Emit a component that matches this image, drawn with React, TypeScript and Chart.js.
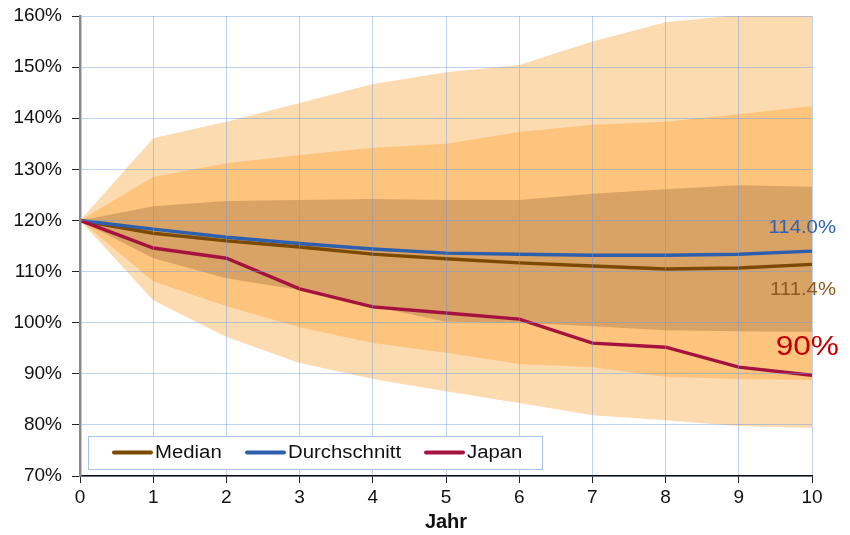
import React, { useEffect, useRef } from "react";
import { Chart, registerables } from "chart.js";

Chart.register(...registerables);

// Years after the reference point
const years = [0, 1, 2, 3, 4, 5, 6, 7, 8, 9, 10];

// Percentile bands (in % of the starting level)
const outerUpper = [120, 136.1, 139.3, 143.0, 146.7, 149.0, 150.4, 155.0, 158.8, 160.2, 160.8];
const midUpper = [120, 128.5, 131.2, 132.8, 134.2, 135.0, 137.3, 138.7, 139.3, 140.8, 142.4];
const innerUpper = [120, 122.8, 123.8, 124.0, 124.2, 124.0, 124.0, 125.2, 126.1, 126.9, 126.6];
const innerLower = [120, 112.6, 108.7, 106.4, 103.2, 100.2, 100.0, 99.3, 98.5, 98.3, 98.2];
const midLower = [120, 108.1, 103.2, 99.1, 96.0, 94.1, 91.9, 91.3, 89.4, 89.0, 88.8];
const outerLower = [120, 104.4, 97.2, 92.1, 89.0, 86.6, 84.3, 81.9, 80.9, 79.8, 79.4];

// Paths
const median = [120, 117.5, 116.0, 114.8, 113.4, 112.5, 111.7, 111.1, 110.5, 110.7, 111.4];
const average = [120, 118.3, 116.7, 115.5, 114.4, 113.6, 113.4, 113.2, 113.2, 113.4, 114.0];
const japan = [120, 114.6, 112.6, 106.6, 103.1, 101.9, 100.7, 96.0, 95.2, 91.3, 89.7];

const yTicks = [70, 80, 90, 100, 110, 120, 130, 140, 150, 160];
const seriesNames = ["Median", "Durchschnitt", "Japan"];

const COL_MEDIAN = "#7B4A00";
const COL_AVG = "#2E5FAC";
const COL_JAPAN = "#A6123F";
const COL_OUTER = "#FDDBB0";
const COL_MID = "#FDC47E";
const COL_INNER = "#D8A365";

const FONT = "'Liberation Sans', Arial, sans-serif";
const STRETCH = 1.13;

const pts = (arr: number[]) => years.map((x, i) => ({ x, y: arr[i] }));

const lineDs = (label: string, arr: number[], color: string, order: number) => ({
  label,
  data: pts(arr),
  borderColor: color,
  backgroundColor: color,
  borderWidth: 3.4,
  pointRadius: 0,
  fill: false,
  tension: 0,
  order,
});

const bandDs = (label: string, arr: number[], color: string, order: number, fill: any) => ({
  label,
  data: pts(arr),
  borderWidth: 0,
  borderColor: "rgba(0,0,0,0)",
  backgroundColor: color,
  pointRadius: 0,
  fill,
  tension: 0,
  order,
});

// Text drawn slightly widened, anchored at (x, y)
function wideText(ctx: any, text: string, x: number, y: number, align: "left" | "right") {
  ctx.save();
  ctx.translate(x, y);
  ctx.scale(STRETCH, 1);
  ctx.textAlign = align;
  ctx.fillText(text, 0, 0);
  ctx.restore();
}

// End-of-line value labels and the boxed legend inside the plot
const overlayPlugin = {
  id: "overlay",
  afterDraw(chart: any) {
    const { ctx, scales } = chart;
    const x = scales.x;
    const y = scales.y;
    const last = years.length - 1;
    const right = x.getPixelForValue(years[last]) + 24;

    ctx.save();
    ctx.textBaseline = "middle";

    ctx.font = `18px ${FONT}`;
    ctx.fillStyle = "#2F62B0";
    wideText(ctx, `${average[last].toFixed(1)}%`, right, y.getPixelForValue(average[last]) - 23, "right");

    ctx.fillStyle = "#8A5A1E";
    wideText(ctx, `${median[last].toFixed(1)}%`, right, y.getPixelForValue(median[last]) + 26, "right");

    ctx.font = `28px ${FONT}`;
    ctx.fillStyle = "#C00000";
    wideText(ctx, `${Math.round(japan[last])}%`, right + 3, y.getPixelForValue(japan[last]) - 28, "right");

    // Legend box
    const bx = 88, by = 436, bw = 454, bh = 33;
    ctx.fillStyle = "#ffffff";
    ctx.fillRect(bx, by, bw, bh);
    ctx.strokeStyle = "#A9C2EC";
    ctx.lineWidth = 1;
    ctx.strokeRect(bx + 0.5, by + 0.5, bw, bh);

    const cy = by + bh / 2;
    const items = [
      { name: seriesNames[0], color: COL_MEDIAN, x0: 114 },
      { name: seriesNames[1], color: COL_AVG, x0: 247 },
      { name: seriesNames[2], color: COL_JAPAN, x0: 426 },
    ];
    ctx.font = `18px ${FONT}`;
    for (const it of items) {
      ctx.strokeStyle = it.color;
      ctx.lineWidth = 4;
      ctx.lineCap = "round";
      ctx.beginPath();
      ctx.moveTo(it.x0, cy);
      ctx.lineTo(it.x0 + 37, cy);
      ctx.stroke();
      ctx.fillStyle = "#111";
      wideText(ctx, it.name, it.x0 + 41, cy + 1, "left");
    }
    ctx.restore();
  },
};

export default function App() {
  const ref = useRef<HTMLCanvasElement | null>(null);

  useEffect(() => {
    if (!ref.current) return;
    const chart = new Chart(ref.current, {
      type: "line",
      data: {
        datasets: [
          lineDs(seriesNames[0], median, COL_MEDIAN, 2),
          lineDs(seriesNames[1], average, COL_AVG, 1),
          lineDs(seriesNames[2], japan, COL_JAPAN, 0),
          bandDs("innerUpper", innerUpper, COL_INNER, 8, "+1"),
          bandDs("innerLower", innerLower, COL_INNER, 8, false),
          bandDs("midUpper", midUpper, COL_MID, 9, "+1"),
          bandDs("midLower", midLower, COL_MID, 9, false),
          bandDs("outerUpper", outerUpper, COL_OUTER, 10, "+1"),
          bandDs("outerLower", outerLower, COL_OUTER, 10, false),
        ] as any,
      },
      options: {
        animation: false,
        responsive: false,
        devicePixelRatio: 1,
        layout: { padding: { left: 0, right: 38, top: 16, bottom: 0 } },
        plugins: { legend: { display: false }, tooltip: { enabled: false } },
        scales: {
          x: {
            type: "linear",
            min: 0,
            max: 10,
            afterFit: (s: any) => {
              s.height = 59;
              s.paddingLeft = 0;
              s.paddingRight = 0;
            },
            ticks: {
              stepSize: 1,
              color: "#111",
              padding: 3,
              font: { family: FONT, size: 19 },
            },
            grid: {
              color: "rgba(110,155,225,0.45)",
              lineWidth: 1,
              tickColor: "#222",
              tickLength: 7,
              z: 1,
            },
            border: { color: "#111", width: 1.5, z: 2 },
            title: {
              display: true,
              text: "Jahr",
              color: "#111",
              font: { family: FONT, size: 20, weight: "bold" },
              padding: { top: 2, bottom: 1 },
            },
          },
          y: {
            type: "linear",
            min: 70,
            max: 160,
            afterFit: (s: any) => {
              s.width = 80;
              s.paddingTop = 0;
              s.paddingBottom = 0;
            },
            afterBuildTicks: (s: any) => {
              s.ticks = yTicks.map((v) => ({ value: v }));
            },
            ticks: {
              color: "#111",
              padding: 10,
              font: { family: FONT, size: 19 },
              callback: (v: any) => `${v}%`,
            },
            grid: {
              color: "rgba(110,155,225,0.45)",
              lineWidth: 1,
              tickColor: "#222",
              tickLength: 8,
              z: 1,
            },
            border: { color: "#8a8a8a", width: 2.5, z: 2 },
          },
        },
      } as any,
      plugins: [overlayPlugin],
    });
    return () => chart.destroy();
  }, []);

  return (
    <div style={{ position: "absolute", left: 0, top: 0, width: 850, height: 535, background: "#fff" }}>
      <canvas ref={ref} width={850} height={535} />
    </div>
  );
}
